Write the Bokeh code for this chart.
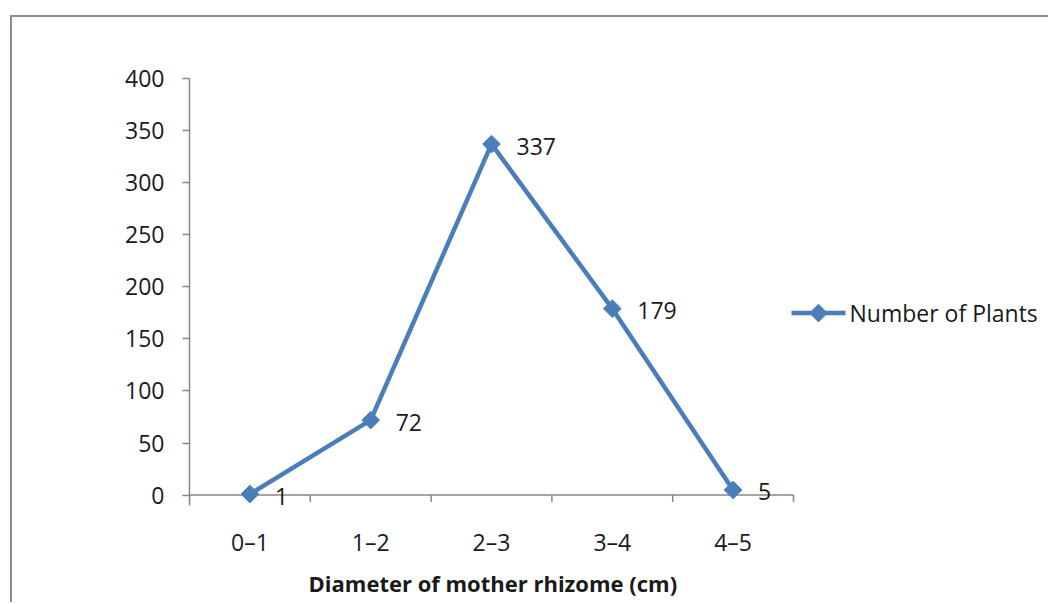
from bokeh.plotting import figure
from bokeh.models import Range1d, FixedTicker, ColumnDataSource, LabelSet, Title
from bokeh.core.properties import value
from bokeh.embed import file_html
from bokeh.resources import INLINE
import numpy as np

# ---- data ----
categories = ["0–1", "1–2", "2–3", "3–4", "4–5"]
plants = [1, 72, 337, 179, 5]
y_ticks = [0, 50, 100, 150, 200, 250, 300, 350, 400]
series_name = "Number of Plants"
x_title = "Diameter of mother rhizome (cm)"

FONT = "Open Sans"
BLUE = "#4A7EBB"
AXIS_GRAY = "#868686"
TXT = "#1a1a1a"
FS = "23px"

# ---- layout constants (pixels) ----
N = len(categories)
CAT_PX = 120.8                 # width of one category slot
Y_MAX = 400
Y_BELOW = 10                   # room under zero (data units) for labels
FRAME_W = 857
FRAME_H = 427
X_END = N * FRAME_W / (N * CAT_PX)
px_x = 1.0 / CAT_PX                              # data units per px (x)
px_y = (Y_MAX + Y_BELOW) / FRAME_H               # data units per px (y)

xs = [i + 0.5 for i in range(N)]
src = ColumnDataSource(dict(x=xs, y=plants, lab=[str(v) for v in plants]))

p = figure(width=1038, height=587, output_backend="svg", toolbar_location=None,
           x_range=Range1d(0, X_END), y_range=Range1d(-Y_BELOW, Y_MAX),
           min_border_left=177, min_border_right=4, min_border_top=61,
           min_border_bottom=99)
p.styles = {"margin-left": "10px", "margin-top": "15px",
            "border-left": "2.5px solid #8c8c8c", "border-top": "2.5px solid #8c8c8c"}
p.outline_line_color = None
p.xgrid.visible = False
p.ygrid.visible = False
p.background_fill_color = "white"
p.border_fill_color = "white"

# x axis line and boundary ticks (category borders)
p.segment(x0=0, y0=0, x1=N, y1=0, line_color=AXIS_GRAY, line_width=1.5)
bx = list(range(N + 1))
p.segment(x0=bx, y0=[0] * len(bx), x1=bx, y1=[-7 * px_y] * len(bx),
          line_color=AXIS_GRAY, line_width=1.5)

line_r = p.line("x", "y", source=src, line_color=BLUE, line_width=4.5)
sc_r = p.scatter("x", "y", source=src, marker="square", angle=np.pi / 4, size=12.5,
                 fill_color=BLUE, line_color=BLUE)

labels = LabelSet(x="x", y="y", text="lab", source=src, x_offset=25, y_offset=-2,
                  text_baseline="middle", text_align="left", text_font=value(FONT),
                  text_font_size=value(FS), text_color=TXT)
p.add_layout(labels)

# legend (drawn inside the wide frame, right of the category area)
LEG_X0 = N + (791 - 793) * px_x
LEG_X1 = LEG_X0 + 54 * px_x
LEG_Y = (495 - 313) * px_y
p.segment(x0=[LEG_X0], y0=[LEG_Y], x1=[LEG_X1], y1=[LEG_Y],
          line_color=BLUE, line_width=4.5)
p.scatter(x=[(LEG_X0 + LEG_X1) / 2], y=[LEG_Y], marker="square", angle=np.pi / 4,
          size=12.5, fill_color=BLUE, line_color=BLUE)
p.text(x=[LEG_X1 + 4 * px_x], y=[LEG_Y], text=[series_name], text_font=value(FONT),
       text_font_size=value(FS), text_color=TXT, text_baseline="middle",
       text_align="left")

# y axis
ya = p.yaxis[0]
ya.ticker = FixedTicker(ticks=y_ticks)
ya.axis_line_color = AXIS_GRAY
ya.axis_line_width = 1.5
ya.major_tick_line_color = AXIS_GRAY
ya.major_tick_line_width = 1.5
ya.major_tick_out = 7
ya.major_tick_in = 0
ya.minor_tick_line_color = None
ya.major_label_standoff = 18
ya.major_label_text_font = FONT
ya.major_label_text_font_size = FS
ya.major_label_text_color = TXT

# x axis (labels only; line and ticks drawn above)
xa = p.xaxis[0]
xa.ticker = FixedTicker(ticks=xs, minor_ticks=[])
xa.major_label_overrides = {x: c for x, c in zip(xs, categories)}
xa.axis_line_color = None
xa.major_tick_line_color = None
xa.minor_tick_line_color = None
xa.major_tick_out = 0
xa.major_tick_in = 0
xa.minor_tick_out = 0
xa.minor_tick_in = 0
xa.major_label_standoff = 20
xa.major_label_text_font = FONT
xa.major_label_text_font_size = FS
xa.major_label_text_color = TXT

# x axis title, centred under the category area
xt = Title(text=x_title, align="left", offset=119, text_font=FONT,
           text_font_size="22px", text_font_style="bold", text_color=TXT,
           standoff=11)
p.add_layout(xt, "below")

open("out.html", "w").write(file_html(p, INLINE))
